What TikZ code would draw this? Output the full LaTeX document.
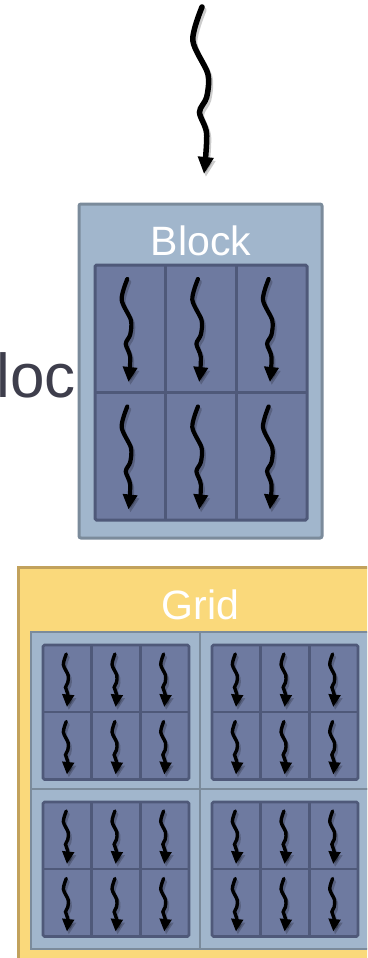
\documentclass[tikz,border=0pt]{standalone}
\usepackage{fontspec}
\setmainfont{Liberation Sans}
\usetikzlibrary{arrows.meta}
\definecolor{blkfill}{HTML}{A1B6CC}
\definecolor{blkline}{HTML}{7B8B9B}
\definecolor{cellfill}{HTML}{6E7AA0}
\definecolor{cellline}{HTML}{4F5979}
\definecolor{gridfill}{HTML}{FAD97B}
\definecolor{gridline}{HTML}{C2A25C}
\definecolor{loccol}{HTML}{3E3E4C}
\tikzset{
  toparr/.style={line width=5.5pt, line cap=round, -{Triangle[length=17pt,width=15pt]}},
  blkarr/.style={line width=4.2pt, line cap=round, -{Triangle[length=15pt,width=14pt]}},
  grdarr/.style={line width=3.4pt, line cap=round, -{Triangle[length=12.5pt,width=11.5pt]}},
  shadowarr/.style={draw=black, opacity=0.2},
  blkbox/.style={draw=blkline, fill=blkfill, line width=3pt, rounded corners=2pt},
  cellbox/.style={draw=cellline, fill=cellfill, line width=3pt, rounded corners=1.5pt},
  cellsep/.style={draw=cellline, line width=3pt},
  gridbox/.style={draw=gridline, fill=gridfill, line width=3pt},
  whitelabel/.style={text=white, anchor=base, inner sep=0pt, font=\fontsize{41}{41}\selectfont},
}
\newcommand{\wavyarr}[4]{%
  \begin{scope}[shift={(#1+1.8,#2+3)},scale=#3]
    \draw[#4, shadowarr] plot[smooth] coordinates {(0,0) (-0.055,0.2) (0.035,0.4) (0.028,0.54) (-0.015,0.63) (0.028,0.76) (0.012,1)};
  \end{scope}
  \begin{scope}[shift={(#1,#2)},scale=#3]
    \draw[#4] plot[smooth] coordinates {(0,0) (-0.055,0.2) (0.035,0.4) (0.028,0.54) (-0.015,0.63) (0.028,0.76) (0.012,1)};
  \end{scope}}
\begin{document}
\begin{tikzpicture}[x=1pt,y=-1pt]
\useasboundingbox (0,0) rectangle (367,958);
\clip (0,0) rectangle (367,958);

% top thread
\wavyarr{202}{7}{167}{toparr}

% partial label
\node[font=\fontsize{62}{62}\selectfont, text=loccol, anchor=base west, inner sep=0pt] (loc) at (-3.5,397) {loc};

% block
\draw[blkbox] (79,204) rectangle (322,538);
\node[whitelabel] (blocklabel) at (201,255) {Block};
\draw[cellbox] (95,265) rectangle (307,520);
\draw[cellsep] (165.7,265) -- (165.7,520) (236.3,265) -- (236.3,520) (95,392.5) -- (307,392.5);
\foreach \c in {0,1,2} {
  \foreach \r in {0,1} {
    \wavyarr{95+35.3+70.67*\c-3}{265+14+127.5*\r}{103}{blkarr}
  }
}

% grid
\draw[gridbox] (18,567) rectangle (420,1010);
\node[whitelabel] (gridlabel) at (200.5,619) {Grid};
\foreach \bx/\by/\bh/\bw in {31/632/157/169, 200/632/157/190, 31/789/160/169, 200/789/160/190} {
  \draw[draw=blkline, fill=blkfill, line width=2.5pt] (\bx,\by) rectangle ++(\bw,\bh);
  \draw[cellbox, line width=2.8pt] (\bx+12,\by+13) rectangle ++(146,134.5);
  \draw[cellsep, line width=2.8pt] (\bx+12+48.67,\by+13) -- ++(0,134.5)
        (\bx+12+97.33,\by+13) -- ++(0,134.5)
        (\bx+12,\by+13+67) -- ++(146,0);
  \foreach \c in {0,1,2} {
    \foreach \r in {0,1} {
      \wavyarr{\bx+12+24.3+48.67*\c-1}{\by+13+9+67.5*\r}{53}{grdarr}
    }
  }
}
\end{tikzpicture}
\end{document}
